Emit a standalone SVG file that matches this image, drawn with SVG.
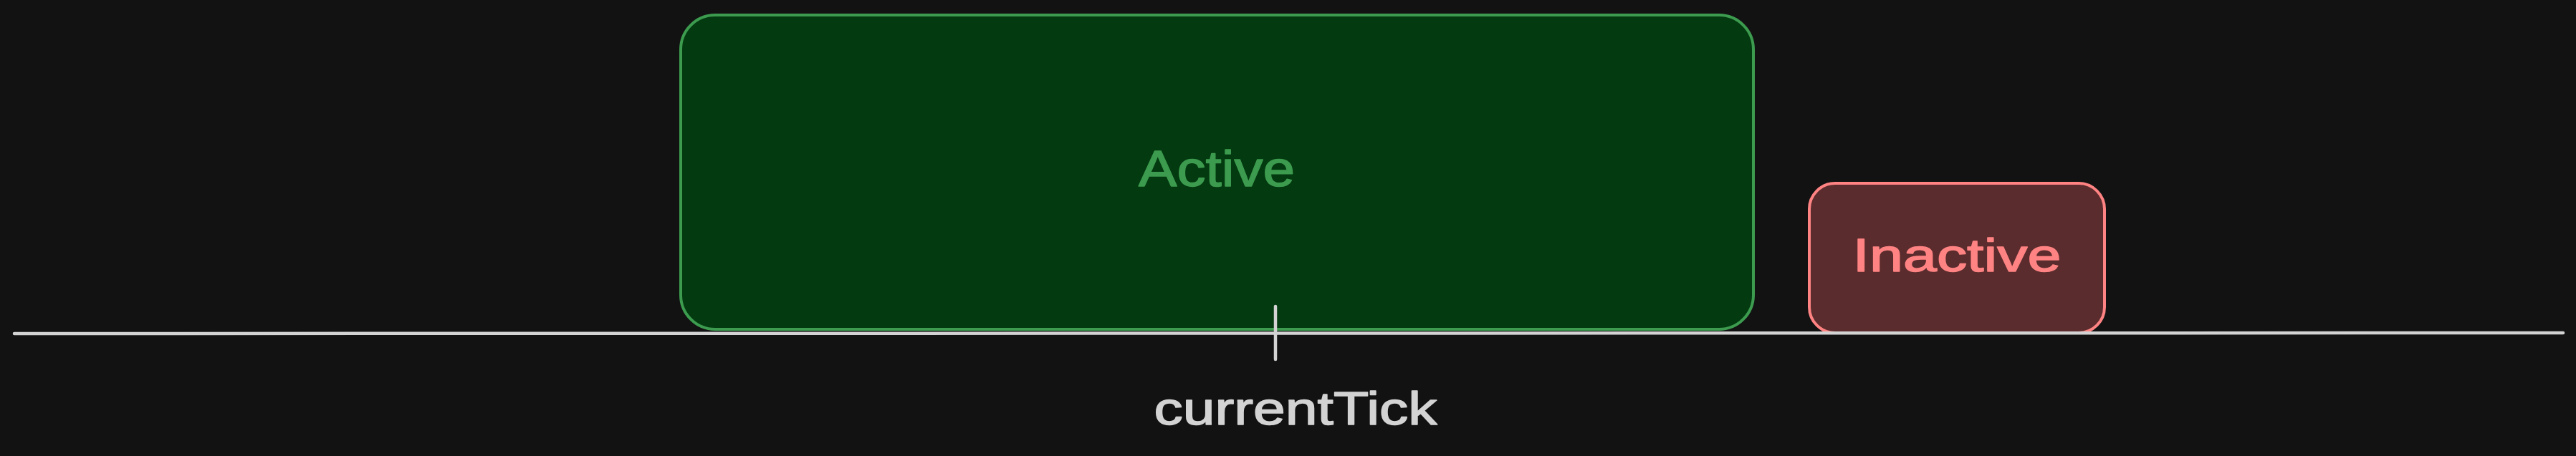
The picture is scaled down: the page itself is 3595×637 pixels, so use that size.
<svg xmlns="http://www.w3.org/2000/svg" width="3595" height="637" viewBox="0 0 3595 637">
  <style>
    .lbl { font-family: "Liberation Sans", "DejaVu Sans", sans-serif; text-anchor: middle; stroke-width: 1.5; stroke-linejoin: round; }
    .axis { stroke: #d3d3d3; stroke-width: 4.5; stroke-linecap: round; fill: none; }
  </style>
  <rect x="0" y="0" width="3595" height="637" fill="#121212"/>
  <g id="active">
    <rect x="950" y="21" width="1497" height="439" rx="48" ry="48" fill="#033a10" stroke="#3c9b4e" stroke-width="4"/>
    <text class="lbl" x="1698" y="260" font-size="70" fill="#3c9b4e" stroke="#3c9b4e" textLength="218" lengthAdjust="spacingAndGlyphs">Active</text>
  </g>
  <g id="inactive">
    <rect x="2525" y="256" width="412" height="209" rx="36" ry="36" fill="#5b2c2d" stroke="#ff8383" stroke-width="4"/>
    <text class="lbl" x="2731" y="379" font-size="64" fill="#ff8383" stroke="#ff8383" textLength="291" lengthAdjust="spacingAndGlyphs">Inactive</text>
  </g>
  <g id="connectors">
    <line class="axis" x1="20" y1="466" x2="3577" y2="465"/>
    <line class="axis" x1="1780" y1="428" x2="1780" y2="502" stroke-width="3.5"/>
  </g>
  <g id="currentTick">
    <text class="lbl" x="1808" y="593" font-size="64" fill="#d3d3d3" stroke="#d3d3d3" textLength="395" lengthAdjust="spacingAndGlyphs">currentTick</text>
  </g>
</svg>
